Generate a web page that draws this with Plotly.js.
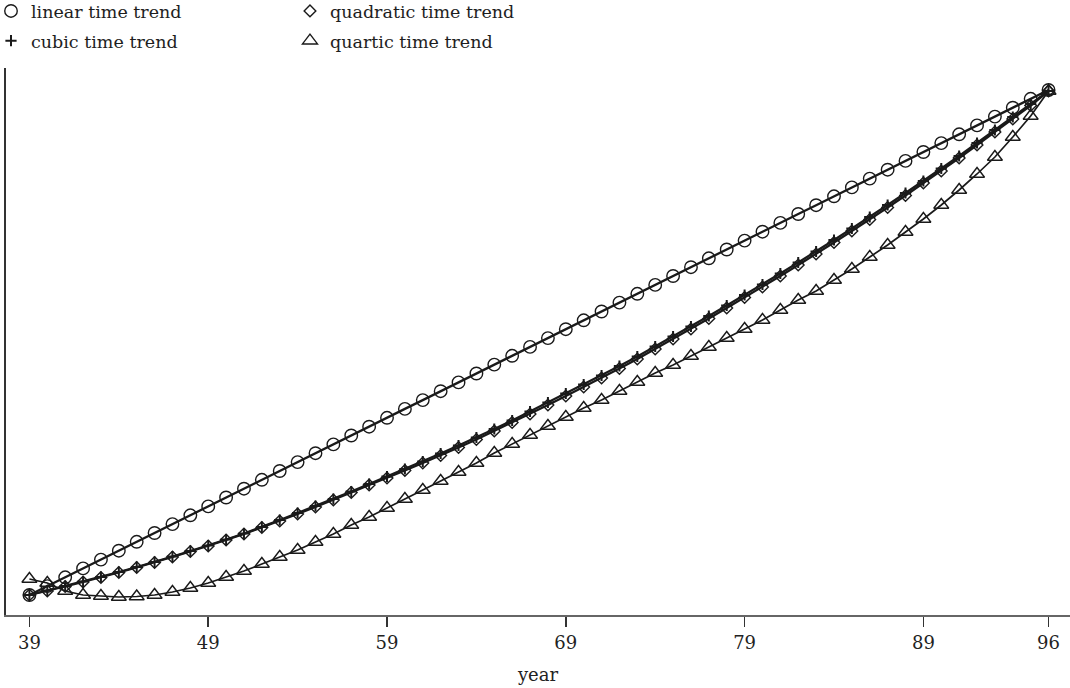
<!DOCTYPE html>
<html>
<head>
<meta charset="utf-8">
<script src="https://cdn.plot.ly/plotly-3.0.1.min.js"></script>
<style>html,body{margin:0;padding:0;background:#fff;}#chart{width:1070px;height:688px;}</style>
</head>
<body>
<div id="chart"></div>
<script>
const years = [39,40,41,42,43,44,45,46,47,48,49,50,51,52,53,54,55,56,57,58,59,60,61,62,63,64,65,66,67,68,69,70,71,72,73,74,75,76,77,78,79,80,81,82,83,84,85,86,87,88,89,90,91,92,93,94,95,96];
const linearTrend = [20,28.9,37.7,46.6,55.4,64.3,73.2,82.0,90.9,99.7,108.6,117.5,126.3,135.2,144.0,152.9,161.8,170.6,179.5,188.3,197.2,206.1,214.9,223.8,232.6,241.5,250.4,259.2,268.1,276.9,285.8,294.7,303.5,312.4,321.2,330.1,339.0,347.8,356.7,365.5,374.4,383.3,392.1,401.0,409.8,418.7,427.6,436.4,445.3,454.1,463.0,471.9,480.7,489.6,498.4,507.3,516.2,525];
const quadraticTrend = [20,24,28.5,33,37.5,42.5,47.5,52.5,58,63.5,69,75,81,87.5,94,101,108,115,122.5,130,137,144.5,152,159.5,167.5,175.5,184,192.5,201,210,219,228,237,246.5,256,266,276,286,296.5,307,317.5,328,339,350,361,372.5,384,395.5,407.5,419.5,432,444,457,470,483,496,509.5,524];
const cubicTrend = [20,24.5,29,33.5,38,43,48,53,58.5,64,69.5,75.5,81.5,88,95,102,109,116,123.5,131,138.5,146,153.5,161.5,169.5,177.5,186,194.5,203.5,212.5,221.5,230.5,239.5,249,258.5,268.5,278.5,288.5,299,309.5,320,330.5,341.5,352.5,363.5,375,386.5,398,410,422,434,446.5,459,472,485,498,511,524];
const quarticTrend = [36,32,24,20,19,18,18.5,20,23,27,32,38,44,51,58,65,73,81,90,98,107,116,125,134,143,152,162,171,180,189,198,207,215,224,233,242,250,259,268,277,286,295,305,315,324,335,346,358,370,383,396,410,425,441,458,478,499,524];
const tickYears = [39,49,59,69,79,89,96];
const tickLabels = ['39','49','59','69','79','89','96'];
const seriesNames = ['linear time trend','quadratic time trend','cubic time trend','quartic time trend'];

const ink = '#1a1a1a';
const serif = 'DejaVu Serif, Liberation Serif, serif';

const series = [
  {y: linearTrend, name: seriesNames[0], lw: 2.3, sym: 'circle-open', size: 12.5, mlw: 1.4, legend: 'legend', group: 'a'},
  {y: quadraticTrend, name: seriesNames[1], lw: 2.3, sym: 'diamond-open', size: 9, mlw: 1.4, legend: 'legend2', group: 'c'},
  {y: cubicTrend, name: seriesNames[2], lw: 2.3, sym: 'cross-thin-open', size: 8, mlw: 2, legend: 'legend', group: 'b'},
  {y: quarticTrend, name: seriesNames[3], lw: 1.7, sym: 'triangle-up-open', size: 13, mlw: 1.4, legend: 'legend2', group: 'd'}
];

const traces = [];
series.forEach(s => {
  traces.push({x: years, y: s.y, mode: 'lines', showlegend: false, hoverinfo: 'skip',
               line: {color: ink, width: s.lw}});
});
series.forEach(s => {
  traces.push({x: years, y: s.y, name: s.name, mode: 'markers', legend: s.legend, legendgroup: s.group,
               marker: {symbol: s.sym, size: s.size, color: ink, line: {width: s.mlw, color: ink}}});
});

const legendFont = {family: serif, size: 17.5, color: '#1e1e1e'};
const layout = {
  width: 1070, height: 688,
  paper_bgcolor: '#fff', plot_bgcolor: '#fff',
  margin: {l: 6, r: 0, t: 68, b: 73, pad: 0, autoexpand: false},
  font: {family: serif, color: '#222', size: 18},
  showlegend: true,
  legend: {orientation: 'v', x: -0.0141, xanchor: 'left', y: 1.137, yanchor: 'top',
           font: legendFont, bgcolor: 'rgba(0,0,0,0)', borderwidth: 0,
           traceorder: 'grouped', tracegroupgap: 4, itemsizing: 'trace'},
  legend2: {orientation: 'v', x: 0.2669, xanchor: 'left', y: 1.137, yanchor: 'top',
           font: legendFont, bgcolor: 'rgba(0,0,0,0)', borderwidth: 0,
           traceorder: 'grouped', tracegroupgap: 4, itemsizing: 'trace'},
  xaxis: {range: [37.69, 97.2], tickmode: 'array', tickvals: tickYears, ticktext: tickLabels,
          ticks: 'outside', ticklen: 10, tickwidth: 1.5, tickcolor: '#333',
          showline: true, linecolor: '#666', linewidth: 2, showgrid: false, zeroline: false,
          tickfont: {family: serif, size: 18, color: '#222'},
          title: {text: 'year', font: {family: serif, size: 18, color: '#222'}, standoff: 17}},
  yaxis: {range: [0, 547], showline: true, linecolor: '#333', linewidth: 2,
          showticklabels: false, ticks: '', showgrid: false, zeroline: false}
};

Plotly.newPlot('chart', traces, layout, {displayModeBar: false, staticPlot: true});
</script>
</body>
</html>
